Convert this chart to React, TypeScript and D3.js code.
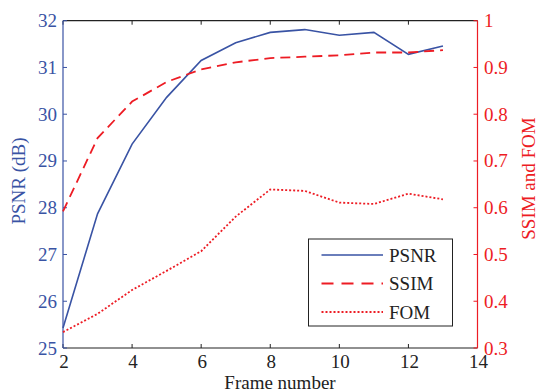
import React from "react";
import * as d3 from "d3";

const frames = [2, 3, 4, 5, 6, 7, 8, 9, 10, 11, 12, 13];
const psnr = [25.43, 27.87, 29.36, 30.36, 31.15, 31.53, 31.75, 31.81, 31.69, 31.75, 31.28, 31.46];
const ssim = [0.592, 0.749, 0.827, 0.869, 0.896, 0.911, 0.92, 0.923, 0.926, 0.932, 0.932, 0.937];
const fom = [0.334, 0.373, 0.424, 0.465, 0.507, 0.581, 0.639, 0.636, 0.611, 0.608, 0.63, 0.618];
const xTicks = [2, 4, 6, 8, 10, 12, 14];
const yLeftTicks = [25, 26, 27, 28, 29, 30, 31, 32];
const yRightTicks = [0.3, 0.4, 0.5, 0.6, 0.7, 0.8, 0.9, 1];
const legendItems = ["PSNR", "SSIM", "FOM"];

const BLUE = "#3953a4";
const RED = "#ed1c24";
const FONT = "'Liberation Serif', 'Times New Roman', serif";

export default function App() {
  const L = 63, R = 477.5, T = 20.7, B = 348;
  const x = d3.scaleLinear().domain([2, 14]).range([L, R]);
  const yL = d3.scaleLinear().domain([25, 32]).range([B, T]);
  const yR = d3.scaleLinear().domain([0.3, 1]).range([B, T]);

  const lineP = d3.line<number>().x((_, i) => x(frames[i])).y((d) => yL(d));
  const lineR = d3.line<number>().x((_, i) => x(frames[i])).y((d) => yR(d));

  const styles = [
    { color: BLUE, dash: "none", w: 1.6 },
    { color: RED, dash: "10 6", w: 1.8 },
    { color: RED, dash: "2 2", w: 1.8 },
  ];

  const lg = { x: 308.5, y: 239, w: 144, h: 87 };
  const rowY = [255, 283.5, 312];

  return (
    <svg width={538} height={392} style={{ position: "absolute", left: 0, top: 0 }}
      fontFamily={FONT}>
      <rect x={0} y={0} width={538} height={392} fill="#fff" />
      {/* top & bottom axes */}
      <line x1={L} x2={R} y1={T} y2={T} stroke="#222" strokeWidth={1.2} />
      <line x1={L} x2={R} y1={B} y2={B} stroke="#222" strokeWidth={1.2} />
      {xTicks.map((t) => (
        <g key={t}>
          <line x1={x(t)} x2={x(t)} y1={B} y2={B - 4} stroke="#222" strokeWidth={1} />
          <line x1={x(t)} x2={x(t)} y1={T} y2={T + 4} stroke="#222" strokeWidth={1} />
          <text x={x(t) + 1} y={368} textAnchor="middle" fontSize={19} fill="#222">{t}</text>
        </g>
      ))}
      {/* left axis */}
      <line x1={L} x2={L} y1={T} y2={B} stroke={BLUE} strokeWidth={1.2} />
      {yLeftTicks.map((t) => (
        <g key={t}>
          <line x1={L} x2={L + 4} y1={yL(t)} y2={yL(t)} stroke={BLUE} strokeWidth={1} />
          <text x={57} y={yL(t) + 6.5} textAnchor="end" fontSize={19} fill={BLUE}>{t}</text>
        </g>
      ))}
      {/* right axis */}
      <line x1={R} x2={R} y1={T} y2={B} stroke={RED} strokeWidth={1.2} />
      {yRightTicks.map((t) => (
        <g key={t}>
          <line x1={R} x2={R - 4} y1={yR(t)} y2={yR(t)} stroke={RED} strokeWidth={1} />
          <text x={484} y={yR(t) + 6.5} textAnchor="start" fontSize={19} fill={RED}>
            {t === 1 ? "1" : t.toFixed(1)}
          </text>
        </g>
      ))}
      {/* series */}
      <path d={lineP(psnr) || ""} fill="none" stroke={BLUE} strokeWidth={styles[0].w} />
      <path d={lineR(ssim) || ""} fill="none" stroke={RED} strokeWidth={styles[1].w} strokeDasharray={styles[1].dash} />
      <path d={lineR(fom) || ""} fill="none" stroke={RED} strokeWidth={styles[2].w} strokeDasharray={styles[2].dash} />
      {/* axis labels */}
      <text x={280} y={389} textAnchor="middle" fontSize={19} fill="#222">Frame number</text>
      <text transform="translate(25,181) rotate(-90)" textAnchor="middle" fontSize={19} fill={BLUE}>PSNR (dB)</text>
      <text transform="translate(535,178.5) rotate(-90)" textAnchor="middle" fontSize={19} fill={RED}>SSIM and FOM</text>
      {/* legend */}
      <rect x={lg.x} y={lg.y} width={lg.w} height={lg.h} fill="#fff" stroke="#222" strokeWidth={1} />
      {legendItems.map((name, i) => (
        <g key={name}>
          <line x1={321.5} x2={383} y1={rowY[i]} y2={rowY[i]} stroke={styles[i].color}
            strokeWidth={styles[i].w} strokeDasharray={i === 1 ? "12 8" : styles[i].dash} />
          <text x={389} y={rowY[i] + 6.5} fontSize={19} fill="#222">{name}</text>
        </g>
      ))}
    </svg>
  );
}
